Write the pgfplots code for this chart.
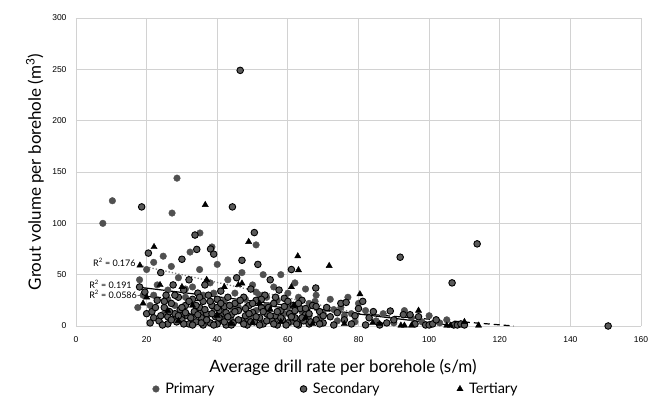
\documentclass[border=0pt]{standalone}
\usepackage{pgfplots}
\pgfplotsset{compat=1.18}
\usepackage{fontspec}
\setmainfont{Lato}
\newfontfamily\tickfont{Liberation Sans}
\definecolor{prim}{HTML}{505050}
\definecolor{seco}{HTML}{5A5A5A}
\definecolor{gridc}{HTML}{D2D2D2}
\begin{document}
\begin{tikzpicture}
\begin{axis}[
  at={(0,0)}, anchor=south west,
  scale only axis, width=565pt, height=308pt,
  xmin=0, xmax=160, ymin=0, ymax=300,
  xtick={0,20,...,160}, ytick={0,50,...,300},
  grid=major, major grid style={gridc, line width=0.8pt},
  axis line style={draw=none},
  tick style={draw=none},
  ticklabel style={font=\tickfont\fontsize{8.5}{10}\selectfont},
  /pgf/number format/assume math mode=true,
  xticklabel style={yshift=-7pt},
  yticklabel style={xshift=-6pt},
  xlabel={Average drill rate per borehole (s/m)},
  ylabel={Grout volume per borehole (m\textsuperscript{3})},
  label style={font=\fontsize{17}{19}\selectfont},
  xlabel style={at={(axis description cs:0.4726,-0.136)}, anchor=center},
  ylabel style={at={(axis description cs:-0.0726,0.5)}, anchor=center},
  clip=false,
  legend columns=3,
  legend style={at={(axis description cs:0.1300,-0.2045)}, anchor=west, draw=none, fill=none,
    font=\fontsize{14.5}{16}\selectfont},
]
\addplot[only marks, mark=*, mark size=3.3pt, mark options={fill=prim, draw=prim}] coordinates {
(7.6,100)(10.3,122)(27.2,110)(28.6,144)(35.1,90.6)(51,79)(38.5,77)(17.5,18)(18,45)(19,30)
(20,55)(21,20)(22,62)(24.7,68)(23,40)(25,12)(26,35)(27,58)(28,20)(29,47)(30,10)(31,28)
(32.3,72)(33,38)(34,16)(35,55)(36,30)(37,8)(38,42)(39,18)(40,60)(41,12)(42,25)(43,45)
(44,6)(45,32)(46,18)(47,52)(48,26)(49,8)(50,40)(51,15)(52,30)(53,50)(54,20)(55,7)(56,38)
(57,25)(58,50)(59,12)(60,32)(61,4)(62,42)(63,28)(64,14)(65,36)(66,22)(67.7,24)(68,30)
(70,12)(72,26)(74,5)(75,18)(77,28)(78,12)(80,22)(82,15)(85,5)(87,12)(90,3)(93,15)(95,8)
(98,4)(100,10)(103,3)(105,6)
(22,30)(26,26)(28,8)(31,36)(33,10)(36,14)(39,32)(42,8)(44,18)(48,4)(51,33)(54,28)(57,8)
(60,18)(63,6)(66,10)(69,8)(73,16)(76,10)(79,4)
};
\addlegendentry{\makebox[137pt][l]{\hspace{4pt}Primary}}
\addplot[only marks, mark=*, mark size=3.3pt, mark options={fill=seco, draw=black, line width=0.9pt}] coordinates {
(18,38)(18.6,116)(19.5,33)(20,12)(20.5,71)(21.5,14)(22,8)(23,25)(23.5,5)(24,52)
(25,18)(25.5,30)(26,9)(26,2)(27,22)(27.5,40)(28,12)(28.5,4)(29,28)(29.5,16)(30,65)(30,6)(30.5,35)
(31,20)(31.5,10)(32,2)(32,45)(33,26)(33.5,14)(33.7,88.6)(34,4)(34.2,74.6)(34.5,32)
(35,18)(35.5,8)(36,24)(36,1)(36.5,40)(37,12)(37.5,30)(38,3)(38.1,75)(38.5,20)
(39,70)(39.5,9)(40,26)(40,2)(40.5,15)(41,34)(41.5,6)(42,19)(42.5,1)(43,28)
(44,11)(44.3,116)(44.5,3)(45,22)(45.5,47)(46,15)(46.5,249)(47,64)(47,5)(47.5,28)(48,10)(48.5,1)(49,20)(49.5,36)
(50,13)(50.5,91)(50.5,4)(51,25)(51.5,60)(52,8)(52.5,18)(53,2)(53.5,30)(54,12)
(55,45)(55.5,5)(56,22)(56.5,10)(57,1)(57.5,35)(58,15)(58.5,6)(59,27)(60,3)(60.5,12)(61,55)(61.5,20)
(62,8)(63,1)(63.5,17)(64,25)(64.5,5)(65,11)(66,2)(67,20)(67.9,37)(68,6)(69,14)(70,3)(71,18)(72,9)
(73,1)(74,13)(75,22)(76,6)(76.5,23)(78,2)(79,10)(80,17)(81.2,24)(82,1)(83,8)(84.2,14)(86,1)(88,3)
(89,14.6)(90,6)(91.8,67)(92.7,11)(94.6,11)(96,2)(97,9)(99,1)(100,1)(101,2)(102,6)(106.5,42)(107,1)
(108,1)(109,2)(110,1)(113.6,80)(150.7,0)
(21,3)(22.5,18)(24,10)(24.5,1)(25,24)(26.5,14)(27,6)(28,30)(29,10)(30,18)(30.5,2)(31,13)(32,24)
(32.5,8)(33,1)(34,20)(34.5,11)(35,28)(35.5,3)(36.5,16)(37,6)(38,24)(38.5,12)(39,1)(40,18)(40.5,8)
(41,22)(42,4)(42.5,13)(43,9)(43.5,20)(44,1)(45,14)(46,6)(46.5,25)(47.5,2)(48,17)(49,12)(49.5,4)
(50,22)(51,9)(52,1)(52.5,26)(53,14)(54,5)(54.5,18)(55,10)(56,2)(56.5,28)(57,14)(58,8)(59,19)
(59.5,1)(60,24)(61,9)(62,15)(62.5,2)(63,22)(64,8)(65,17)(66,12)(66.5,4)(68,19)(69,2)(70,10)
};
\addlegendentry{\makebox[146pt][l]{\hspace{4pt}Secondary}}
\addplot[only marks, mark=triangle*, mark size=3.6pt, mark options={fill=black, draw=black}] coordinates {
(18.1,59)(19,22)(20,28)(22.1,77)(23.8,40)(26,15)(29,5)(30,38)(33,20)(36.6,118)(37,45)(40,10)
(42,38)(44,2)(46,40)(47,41.5)(48.9,82)(50,3)(52,22)(55,16)(58,4)(61,38)(61.7,20)(62.8,68)(63,54.5)
(65,8)(67,2)(71.7,58.6)(76,2)(80.4,31)(84,3)(86,2)(92,0.5)(93,0.5)(95,0.5)(97,15)(105,0.5)
(106,0.5)(110,4)(114,0.5)
};
\addlegendentry{\hspace{4pt}Tertiary}
\addplot[gray, dotted, line width=1.3pt, forget plot] coordinates {(18,59)(79,13)};
\addplot[black, line width=1.2pt, forget plot] coordinates {(17.3,38)(105,1.2)};
\addplot[black, dash pattern=on 6pt off 4pt, line width=1.2pt, forget plot] coordinates {(19.5,29)(124,0)};
\node[anchor=west, font=\fontsize{9}{10}\selectfont, inner sep=0pt] at (axis cs:4.8,62.3) {R\textsuperscript{2} = 0.176};
\node[anchor=west, font=\fontsize{9}{10}\selectfont, inner sep=0pt] at (axis cs:3.7,40.9) {R\textsuperscript{2} = 0.191};
\node[anchor=west, font=\fontsize{9}{10}\selectfont, inner sep=0pt] at (axis cs:3.7,31.2) {R\textsuperscript{2} = 0.0586–};
\end{axis}
\pgfresetboundingbox
\path (-76pt,-75pt) rectangle (573pt,326pt);
\end{tikzpicture}
\end{document}
